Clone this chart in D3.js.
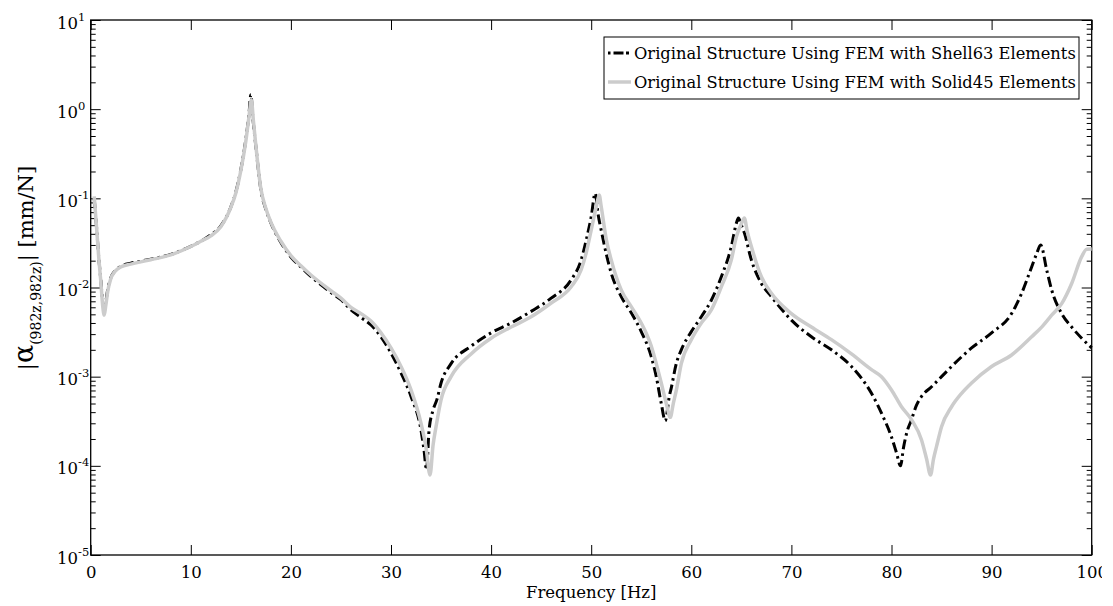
<!DOCTYPE html>
<html>
<head>
<meta charset="utf-8">
<script src="https://cdn.jsdelivr.net/npm/d3@7"></script>
<style>
  body { margin: 0; background: #fff; overflow: hidden; }
  svg { display: block; font-family: "DejaVu Serif", serif; }
</style>
</head>
<body>
<div id="chart"></div>
<script>
// tick values
const xTicks = [0, 10, 20, 30, 40, 50, 60, 70, 80, 90, 100];
const yExponents = [-5, -4, -3, -2, -1, 0, 1];

// Shell63 (black dash-dot)
const shellFreq = [0.35, 0.6, 0.8, 1.0, 1.2, 1.35, 1.5, 1.7, 2.0, 2.4, 3, 4, 5, 6, 8, 10, 11, 12, 13, 14, 14.5, 15, 15.5, 15.8, 16.0, 16.2, 16.5, 17, 17.5, 18, 19, 20, 21, 22, 24, 25, 26, 27, 28, 29, 30, 31, 32, 33, 33.3, 33.55, 33.8, 34.2, 34.6, 35, 36, 38, 40, 42, 44, 46, 48, 49, 49.5, 50, 50.4, 50.7, 51, 51.5, 52, 53, 54, 55, 56, 56.5, 57, 57.4, 57.8, 58, 58.5, 59, 60, 61, 62, 63, 64, 64.5, 64.7, 65, 65.3, 66, 67, 68, 70, 72, 74, 76, 78, 79, 80, 80.5, 80.9, 81.2, 81.5, 82, 82.5, 83, 84, 85, 86, 88, 90, 92, 93, 94, 94.5, 94.9, 95.5, 96, 97, 98, 99, 100];
const shellMag = [0.1, 0.045, 0.022, 0.0125, 0.0068, 0.0056, 0.0068, 0.0095, 0.0128, 0.0152, 0.0172, 0.0187, 0.0197, 0.0208, 0.0235, 0.029, 0.033, 0.039, 0.049, 0.08, 0.118, 0.21, 0.46, 0.85, 1.45, 0.8, 0.38, 0.125, 0.075, 0.053, 0.032, 0.022, 0.017, 0.0133, 0.0088, 0.0073, 0.0056, 0.0046, 0.0038, 0.0028, 0.00184, 0.0011, 0.0006, 0.00025, 0.00015, 0.00009, 0.00025, 0.00042, 0.00056, 0.00085, 0.0014, 0.0022, 0.0031, 0.004, 0.0054, 0.0076, 0.0122, 0.0204, 0.034, 0.062, 0.114, 0.065, 0.044, 0.024, 0.0145, 0.0079, 0.0052, 0.0032, 0.00168, 0.001, 0.0005, 0.00032, 0.0006, 0.00075, 0.0014, 0.002, 0.0032, 0.0047, 0.0072, 0.0132, 0.0288, 0.0525, 0.06, 0.05, 0.041, 0.0204, 0.0111, 0.0079, 0.0043, 0.0028, 0.002, 0.0013, 0.00065, 0.00039, 0.00021, 0.00014, 0.0001, 0.00016, 0.00023, 0.00033, 0.00048, 0.0006, 0.00077, 0.001, 0.0013, 0.0021, 0.0031, 0.0051, 0.0086, 0.017, 0.024, 0.03, 0.0158, 0.0094, 0.0051, 0.0036, 0.0027, 0.0021];

// Solid45 (light grey)
const solidFreq = [0.35, 0.6, 0.8, 1.0, 1.2, 1.35, 1.5, 1.7, 2.0, 2.4, 3, 4, 5, 6, 8, 10, 11, 12, 13, 14, 14.5, 15, 15.5, 15.8, 16.05, 16.25, 16.5, 17, 17.5, 18, 19, 20, 21, 22, 24, 25, 26, 27, 28, 29, 30, 31, 32, 33, 33.5, 33.9, 34.2, 34.5, 35, 36, 38, 40, 42, 44, 46, 48, 49, 49.5, 50, 50.5, 50.8, 51, 51.5, 52, 53, 54, 55, 56, 56.5, 57, 57.5, 57.9, 58.2, 58.5, 59, 60, 61, 62, 63, 64, 64.5, 65, 65.3, 65.6, 66, 67, 68, 70, 72, 74, 76, 78, 79, 80, 81, 82, 83, 83.5, 83.9, 84.2, 84.5, 85, 86, 87, 88, 90, 92, 94, 95, 96, 97, 98, 99, 99.5, 100];
const solidMag = [0.105, 0.045, 0.022, 0.012, 0.0062, 0.0049, 0.0062, 0.009, 0.0125, 0.015, 0.017, 0.0183, 0.0194, 0.0205, 0.0232, 0.0288, 0.033, 0.038, 0.048, 0.079, 0.115, 0.205, 0.44, 0.8, 1.27, 0.75, 0.39, 0.128, 0.077, 0.054, 0.033, 0.0228, 0.0175, 0.0138, 0.0092, 0.0076, 0.006, 0.0051, 0.0042, 0.0031, 0.0021, 0.0013, 0.00071, 0.0003, 0.00016, 0.000079, 0.00017, 0.000275, 0.00055, 0.001, 0.0018, 0.0027, 0.0036, 0.0047, 0.0067, 0.0102, 0.0158, 0.0245, 0.044, 0.08, 0.109, 0.081, 0.035, 0.0204, 0.0094, 0.0061, 0.004, 0.0022, 0.0014, 0.00085, 0.0005, 0.00035, 0.0005, 0.0007, 0.0014, 0.0026, 0.004, 0.0056, 0.0102, 0.0204, 0.037, 0.052, 0.06, 0.042, 0.0288, 0.0132, 0.0086, 0.0051, 0.0036, 0.0026, 0.0018, 0.0012, 0.001, 0.00071, 0.00046, 0.00033, 0.000195, 0.00012, 0.000079, 0.00012, 0.000165, 0.000275, 0.00046, 0.00065, 0.00085, 0.0013, 0.00175, 0.0028, 0.0036, 0.0049, 0.0066, 0.0111, 0.0222, 0.0269, 0.027];

const seriesNames = [
  "Original Structure Using FEM with Shell63 Elements",
  "Original Structure Using FEM with Solid45 Elements",
];

const width = 1102, height = 606;
const margin = { top: 20, right: 10.3, bottom: 51, left: 90.7 };
const svg = d3.select("#chart").append("svg").attr("width", width).attr("height", height);

const x = d3.scaleLinear().domain([0, 100]).range([margin.left, width - margin.right]);
const y = d3.scaleLog().domain([1e-5, 10]).range([height - margin.bottom, margin.top]);
const plotW = x.range()[1] - x.range()[0];

const minorTicks = [];
yExponents.slice(0, -1).forEach((e) => {
  for (let k = 2; k <= 9; k++) minorTicks.push(k * Math.pow(10, e));
});
const majorTicks = yExponents.map((e) => Math.pow(10, e));

const styleAxis = (g) => {
  g.select(".domain").remove();
  g.selectAll(".tick line").attr("stroke", "#000").attr("stroke-width", 1);
  g.selectAll("text").attr("fill", "#000").attr("font-family", "DejaVu Serif").attr("font-size", 16.5);
};

// bottom / top x axes
svg.append("g").attr("transform", `translate(0,${y.range()[0]})`)
  .call(d3.axisBottom(x).tickValues(xTicks).tickSizeInner(-10).tickSizeOuter(0).tickPadding(11).tickFormat(d3.format("d")))
  .call(styleAxis);
svg.append("g").attr("transform", `translate(0,${margin.top})`)
  .call(d3.axisTop(x).tickValues(xTicks).tickSizeInner(-10).tickSizeOuter(0).tickFormat(""))
  .call(styleAxis);

// left / right log axes
const left = svg.append("g").attr("transform", `translate(${margin.left},0)`);
left.append("g").call(d3.axisLeft(y).tickValues(minorTicks).tickSizeInner(-5).tickSizeOuter(0).tickFormat("")).call(styleAxis);
const leftMajor = left.append("g")
  .call(d3.axisLeft(y).tickValues(majorTicks).tickSizeInner(-10).tickSizeOuter(0).tickPadding(4).tickFormat(""))
  .call(styleAxis);
leftMajor.selectAll(".tick text").each(function (d) {
  const t = d3.select(this).attr("text-anchor", "start").attr("x", -33.7).attr("dy", null).attr("y", 8);
  t.append("tspan").text("10");
  t.append("tspan").attr("font-size", 11.5).attr("dy", -8).text(Math.round(Math.log10(d)));
});
const right = svg.append("g").attr("transform", `translate(${x.range()[1]},0)`);
right.append("g").call(d3.axisRight(y).tickValues(minorTicks).tickSizeInner(-5).tickSizeOuter(0).tickFormat("")).call(styleAxis);
right.append("g").call(d3.axisRight(y).tickValues(majorTicks).tickSizeInner(-10).tickSizeOuter(0).tickFormat("")).call(styleAxis);

// box
svg.append("rect").attr("x", margin.left).attr("y", margin.top).attr("width", plotW)
  .attr("height", y.range()[0] - margin.top).attr("fill", "none").attr("stroke", "#000").attr("stroke-width", 1.3);

// curves
const line = d3.line().x((d) => x(d[0])).y((d) => y(d[1])).curve(d3.curveMonotoneX);
const shell = d3.zip(shellFreq, shellMag);
const solid = d3.zip(solidFreq, solidMag);
const series = [
  { name: seriesNames[0], data: shell, color: "#000", width: 3, dash: "10,4,2.5,4" },
  { name: seriesNames[1], data: solid, color: "#cccccc", width: 3.5, dash: null },
];
svg.append("g").selectAll("path").data(series).join("path")
  .attr("fill", "none").attr("stroke", (s) => s.color).attr("stroke-width", (s) => s.width)
  .attr("stroke-dasharray", (s) => s.dash).attr("stroke-linejoin", "round")
  .attr("d", (s) => line(s.data));

// legend
const legend = svg.append("g");
legend.append("rect").attr("x", 604).attr("y", 37).attr("width", 475).attr("height", 62)
  .attr("fill", "#fff").attr("stroke", "#000").attr("stroke-width", 1);
const rows = legend.selectAll("g.row").data(series).join("g").attr("class", "row")
  .attr("transform", (s, i) => `translate(0,${53 + i * 29})`);
rows.append("line").attr("x1", 608).attr("x2", 631).attr("stroke", (s) => s.color)
  .attr("stroke-width", (s) => s.width).attr("stroke-dasharray", (s) => s.dash ? "2.5,3,10" : null);
rows.append("text").attr("x", 634).attr("y", 5.5).attr("font-size", 16.3).text((s) => s.name);

// axis titles
svg.append("text").attr("x", (x.range()[0] + x.range()[1]) / 2).attr("y", 598)
  .attr("text-anchor", "middle").attr("font-size", 16.5).text("Frequency [Hz]");
const yt = svg.append("text").attr("transform", "translate(33,268) rotate(-90)")
  .attr("text-anchor", "middle").attr("font-size", 21);
yt.append("tspan").text("|");
yt.append("tspan").attr("font-size", 27).text("α");
yt.append("tspan").attr("font-size", 14).attr("dy", 8).text("(982z,982z)");
yt.append("tspan").attr("dy", -8).text("| [mm/N]");
</script>
</body>
</html>
